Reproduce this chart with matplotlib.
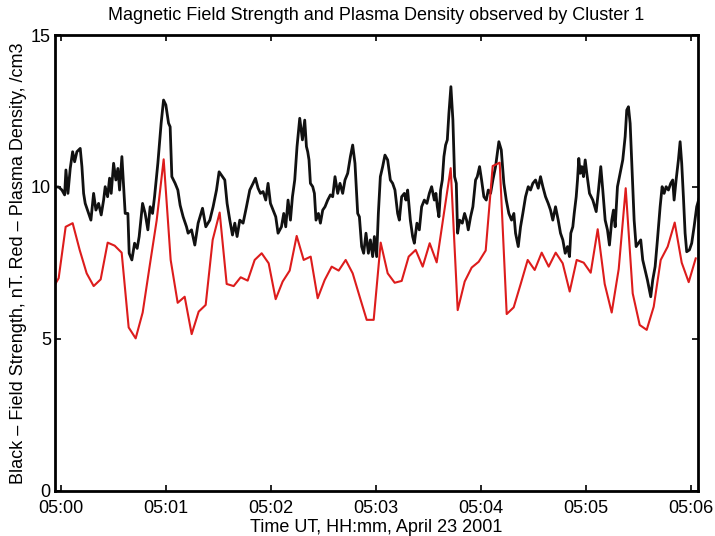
import numpy as np
import matplotlib
matplotlib.use("Agg")
import matplotlib.pyplot as plt

plt.rcParams['font.family'] = ['Liberation Sans', 'DejaVu Sans']

# ---- data -------------------------------------------------------------
# Plasma density (red), 4-second spin resolution, seconds after 05:00:00 UT
red_t0 = -5.3
red_step = 4.0
red_vals = [6.6, 7.0, 8.69, 8.81, 7.93, 7.16, 6.74, 6.96, 8.17, 8.07, 7.84,
            5.38, 5.02, 5.87, 7.4, 8.9, 10.91, 7.6, 6.19, 6.39, 5.16, 5.9,
            6.12, 8.26, 9.16, 6.81, 6.74, 7.03, 6.92, 7.6, 7.82, 7.49, 6.31,
            6.89, 7.25, 8.39, 7.6, 7.71, 6.34, 6.94, 7.38, 7.25, 7.6, 7.16,
            6.39, 5.63, 5.63, 8.17, 7.16, 6.85, 6.91, 7.71, 7.93, 7.38, 8.15,
            7.52, 9.08, 10.62, 5.95, 6.89, 7.35, 7.54, 7.91, 10.69, 10.8,
            5.82, 6.04, 6.81, 7.6, 7.27, 7.84, 7.38, 7.84, 7.49, 6.56, 7.6,
            7.51, 7.18, 8.61, 6.81, 5.87, 7.3, 9.96, 6.5, 5.46, 5.3, 6.06,
            7.6, 8.04, 8.83, 7.51, 6.87, 7.65]

# Magnetic field strength (black), seconds after 05:00:00 UT
black_t = [-3.25, -1.31, 0.57, 2.11, 2.85, 4.0, 5.31, 6.68, 7.82, 9.13, 11.02,
           11.99, 12.96, 13.87, 15.81, 17.13, 18.67, 19.98, 21.52, 23.01,
           24.38, 25.29, 26.66, 27.8, 28.72, 30.09, 31.4, 32.54, 33.51, 34.83,
           35.8, 36.71, 38.25, 38.99, 40.53, 42.08, 43.56, 44.7, 46.64, 48.13,
           49.67, 50.98, 52.35, 53.49, 55.38, 57.26, 58.63, 59.94, 61.49,
           62.4, 63.37, 65.25, 66.8, 68.11, 69.82, 71.76, 72.67, 74.62, 76.5,
           78.39, 80.9, 82.78, 85.07, 86.95, 88.89, 90.37, 92.31, 93.63,
           94.94, 96.48, 98.02, 99.34, 100.65, 102.19, 104.07, 106.01, 107.9,
           109.78, 111.15, 112.64, 114.01, 115.49, 117.03, 118.35, 119.72,
           121.2, 122.74, 124.06, 126.0, 127.31, 128.45, 129.77, 131.14,
           132.28, 133.59, 134.9, 136.45, 137.99, 139.3, 140.27, 141.01,
           141.75, 142.55, 143.86, 144.83, 145.75, 147.12, 148.26, 149.58,
           150.89, 152.43, 153.97, 155.28, 156.6, 158.14, 159.45, 160.99,
           162.31, 163.85, 165.39, 166.7, 168.01, 169.56, 170.53, 171.84,
           172.98, 174.3, 175.67, 176.81, 178.12, 179.09, 180.4, 181.37,
           182.51, 183.83, 185.14, 186.68, 188.22, 189.54, 190.85, 192.39,
           193.36, 194.68, 196.22, 197.13, 198.1, 199.64, 200.96, 201.93,
           203.41, 204.78, 206.1, 207.64, 209.12, 210.5, 211.81, 213.35,
           214.26, 215.06, 215.97, 216.94, 217.91, 218.83, 219.8, 220.77,
           221.68, 222.82, 223.96, 224.93, 225.9, 226.64, 227.79, 229.33,
           230.64, 231.78, 232.75, 234.07, 235.38, 236.92, 237.89, 239.2,
           240.35, 241.66, 243.03, 244.17, 245.49, 246.8, 248.34, 250.22,
           251.6, 253.08, 254.45, 255.93, 257.47, 258.79, 259.76, 261.3,
           262.61, 263.92, 265.47, 267.01, 268.32, 269.63, 271.18, 272.72,
           274.03, 275.35, 276.89, 278.43, 279.74, 281.05, 282.6, 284.14,
           285.45, 286.77, 288.14, 289.45, 290.59, 291.33, 292.48, 293.28,
           294.42, 295.16, 295.9, 296.7, 297.62, 298.59, 299.56, 300.47,
           302.01, 303.9, 305.84, 307.15, 308.46, 309.6, 310.97, 312.28,
           313.42, 314.74, 315.71, 316.68, 317.99, 319.53, 321.02, 322.39,
           323.3, 324.27, 325.24, 326.55, 327.52, 328.66, 329.98, 331.29,
           332.43, 333.8, 335.11, 336.26, 337.0, 338.14, 339.51, 340.83,
           342.37, 343.51, 344.65, 345.79, 347.11, 348.42, 349.56, 350.36,
           351.5, 352.82, 353.79, 354.7, 355.67, 356.64, 357.56, 359.1,
           360.41, 361.78, 363.27, 364.5]
black_vals = [10.0, 10.0, 9.9, 9.74, 10.56, 9.79, 10.61, 11.16, 10.83, 11.16,
              11.27, 10.67, 9.79, 9.46, 9.13, 8.91, 9.79, 9.24, 9.46, 9.08,
              9.57, 10.01, 9.68, 10.29, 9.79, 10.78, 10.23, 10.61, 9.9, 11.0,
              10.01, 9.13, 9.13, 7.82, 7.6, 8.15, 7.98, 8.37, 9.46, 9.13,
              8.59, 9.35, 9.13, 9.68, 10.78, 12.1, 12.86, 12.7, 12.1, 11.98,
              10.34, 10.12, 9.9, 9.4, 9.02, 8.69, 8.48, 8.59, 8.09, 8.81, 9.3,
              8.69, 8.91, 9.35, 9.9, 10.5, 10.34, 10.23, 9.46, 8.91, 8.42,
              8.81, 8.37, 8.91, 8.81, 9.35, 9.9, 10.12, 10.29, 9.96, 9.79,
              9.85, 9.57, 10.12, 9.46, 9.24, 9.02, 8.48, 8.69, 9.13, 8.69,
              9.57, 8.91, 9.68, 10.23, 11.33, 12.26, 11.55, 12.2, 11.33, 11.16,
              10.89, 10.12, 10.01, 9.79, 8.91, 9.13, 8.81, 9.24, 9.35, 9.57,
              9.74, 9.68, 10.34, 9.79, 10.12, 9.79, 10.23, 10.45, 11.0, 11.38,
              10.78, 9.13, 9.02, 8.04, 7.82, 8.48, 7.82, 8.26, 7.71, 8.37,
              7.71, 9.13, 10.34, 10.67, 11.05, 10.89, 10.23, 10.12, 9.9, 9.13,
              8.91, 9.68, 9.79, 9.57, 9.9, 8.91, 8.37, 8.15, 8.81, 8.59, 9.35,
              9.57, 9.46, 9.79, 10.01, 9.57, 9.79, 9.35, 9.02, 9.9, 10.23,
              11.0, 11.38, 11.55, 12.42, 13.3, 12.2, 10.34, 10.12, 8.48, 8.91,
              8.81, 9.13, 8.91, 8.59, 9.02, 9.35, 10.23, 10.34, 10.67, 10.23,
              9.68, 9.57, 9.9, 9.79, 10.23, 10.67, 11.49, 11.22, 10.12, 9.57,
              9.13, 8.91, 9.13, 8.48, 8.04, 8.69, 9.13, 9.68, 10.01, 9.9,
              10.12, 10.23, 9.96, 10.34, 10.01, 9.68, 9.46, 9.24, 8.91, 9.35,
              8.91, 8.48, 8.26, 7.82, 8.04, 7.71, 8.48, 8.69, 9.13, 9.68,
              10.23, 10.94, 10.45, 10.67, 10.34, 10.89, 10.45, 9.79, 9.57,
              9.19, 9.9, 10.67, 9.9, 8.91, 8.59, 8.09, 8.91, 9.24, 8.69, 10.01,
              10.45, 10.89, 11.66, 12.53, 12.64, 12.09, 10.23, 8.91, 8.04,
              8.15, 8.26, 7.6, 7.27, 6.94, 6.61, 6.39, 6.94, 7.38, 8.26, 9.35,
              10.01, 9.79, 10.01, 9.9, 10.12, 10.23, 9.57, 10.23, 10.89, 11.49,
              10.78, 9.68, 8.48, 7.87, 7.93, 8.15, 8.69, 9.35, 9.6]

tick_secs = [0, 60, 120, 180, 240, 300, 360]
tick_labels = ['05:00', '05:01', '05:02', '05:03', '05:04', '05:05', '05:06']
y_ticks = [0, 5, 10, 15]

title = 'Magnetic Field Strength and Plasma Density observed by Cluster 1'
xlabel = 'Time UT, HH:mm, April 23 2001'
ylabel = 'Black \u2013 Field Strength, nT. Red \u2013 Plasma Density, /cm3'

# ---- plot -------------------------------------------------------------
red_t = red_t0 + red_step * np.arange(len(red_vals))

fig = plt.figure(figsize=(7.15, 5.36), dpi=100)
ax = fig.add_axes([0.0769, 0.0840, 0.8993, 0.8507])

ax.plot(black_t, black_vals, color='#111111', lw=2.0)
ax.plot(red_t, red_vals, color='#dd1c1c', lw=1.5)

ax.set_xlim(-3.4, 364.0)
ax.set_ylim(0, 15)
ax.set_xticks(tick_secs)
ax.set_xticklabels(tick_labels)
ax.set_yticks(y_ticks)

for s in ax.spines.values():
    s.set_linewidth(2.0)
ax.tick_params(direction='in', length=4, width=1.2, top=True, right=True,
               labelsize=13, colors='black')
ax.tick_params(axis='x', pad=6.5)
ax.tick_params(axis='y', pad=3)

ax.set_title(title, fontsize=13, pad=11)
ax.set_xlabel(xlabel, fontsize=13, labelpad=1.5)
ax.set_ylabel(ylabel, fontsize=13, labelpad=3)

fig.savefig('out.png', dpi=100)
